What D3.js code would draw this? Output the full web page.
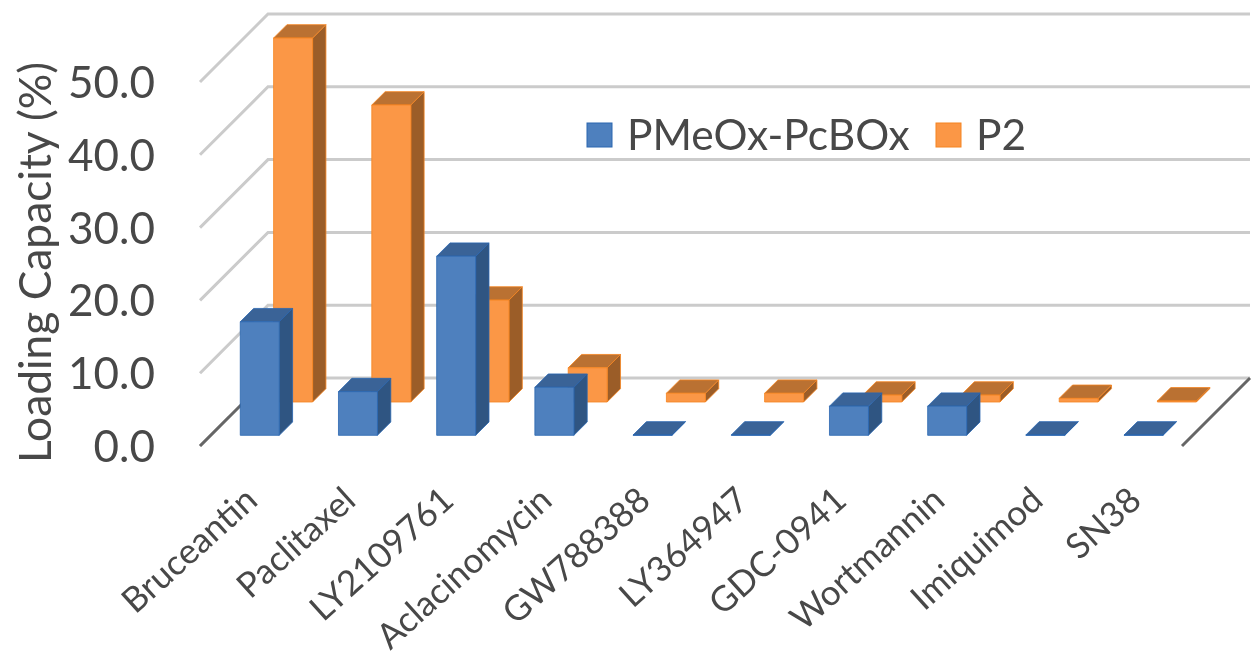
<!DOCTYPE html>
<html><head><meta charset="utf-8">
<script src="https://cdn.jsdelivr.net/npm/d3@7"></script>
<style>html,body{margin:0;padding:0;background:#fff}svg{display:block;filter:blur(.7px)}text{font-family:Lato,"Open Sans",sans-serif}</style>
</head><body><svg id="c" width="1260" height="671"></svg>
<script>
const categories=["Bruceantin","Paclitaxel","LY2109761","Aclacinomycin","GW788388","LY364947","GDC-0941","Wortmannin","Imiquimod","SN38"];
const seriesNames=["PMeOx-PcBOx","P2"];
const pmeox=[15.6,6.0,24.6,6.6,0.05,0.05,4.0,4.0,0.05,0.05];
const p2=[50.0,40.8,14.0,4.7,1.2,1.2,0.95,0.95,0.5,0.15];
const yTicks=[0,10,20,30,40,50];
const palette={
  "PMeOx-PcBOx":{front:"#4e80be",side:"#2f5582",top:"#3a6397",edge:"#2a66b0"},
  "P2":{front:"#fb9746",side:"#9b5d28",top:"#ba7132",edge:"#f58420"}
};
const svg=d3.select("#c");
const x=d3.scaleBand().domain(categories).range([200,1182]).paddingInner(.603).paddingOuter(.3015);
const z=d3.scaleBand().domain(seriesNames).range([0,68]).paddingInner(.6).paddingOuter(.32);
const y=d3.scaleLinear().domain([0,50]).range([446,82]);
const DEPTH=68;
const line=d3.line();
const P=(px,d,v)=>[px+d,y(v)-d];

// walls and gridlines
yTicks.forEach(t=>{
  svg.append("path").attr("fill","none").attr("stroke","#cbcbcb").attr("stroke-width",3)
    .attr("d",line([P(200,0,t),P(200,DEPTH,t),P(1182,DEPTH,t)]));
});
svg.append("path").attr("fill","none").attr("stroke","#666").attr("stroke-width",3)
  .attr("d",line([P(200,0,0),P(200,DEPTH,0)]));
svg.append("path").attr("fill","none").attr("stroke","#666").attr("stroke-width",3)
  .attr("d",line([P(1182,0,0),P(1182,DEPTH,0)]));

function bars(name,vals){
  const c=palette[name],w=x.bandwidth(),d0=z(name),d1=d0+z.bandwidth();
  const g=svg.append("g").attr("stroke",c.edge).attr("stroke-width",.8).attr("stroke-linejoin","round");
  categories.forEach((cat,i)=>{
    const L=x(cat),R=L+w,v=vals[i];
    g.append("path").attr("fill",c.side).attr("d",line([P(R,d0,0),P(R,d1,0),P(R,d1,v),P(R,d0,v)])+"Z");
    g.append("path").attr("fill",c.top).attr("d",line([P(L,d0,v),P(R,d0,v),P(R,d1,v),P(L,d1,v)])+"Z");
    g.append("path").attr("fill",c.front).attr("d",line([P(L,d0,0),P(R,d0,0),P(R,d0,v),P(L,d0,v)])+"Z");
  });
}
bars("P2",p2);
bars("PMeOx-PcBOx",pmeox);

const ink="#484848";
// y tick labels
svg.append("g").selectAll("text").data(yTicks).join("text")
  .attr("x",155).attr("y",t=>y(t)+16).attr("text-anchor","end")
  .attr("font-size",44).attr("fill",ink).text(t=>t.toFixed(1));
// y title
svg.append("text").attr("transform","translate(51,262.5) rotate(-90)").attr("text-anchor","middle")
  .attr("font-size",44.3).attr("fill",ink).text("Loading Capacity (%)");
// x labels
svg.append("g").selectAll("text").data(categories).join("text")
  .attr("text-anchor","end").attr("font-size",35).attr("fill",ink)
  .attr("transform",c=>`translate(${x(c)+x.bandwidth()/2-6},485) rotate(-42)`)
  .attr("dy","0.7em").text(c=>c);
// legend
const lg=[{n:seriesNames[0],sx:587,tx:627},{n:seriesNames[1],sx:936,tx:976}];
const lgG=svg.append("g");
lg.forEach(l=>{
  lgG.append("rect").attr("x",l.sx).attr("y",123).attr("width",25).attr("height",24)
    .attr("fill",palette[l.n].front).attr("stroke",palette[l.n].edge);
  lgG.append("text").attr("x",l.tx).attr("y",150).attr("font-size",42.5).attr("fill",ink).text(l.n);
});
</script></body></html>
